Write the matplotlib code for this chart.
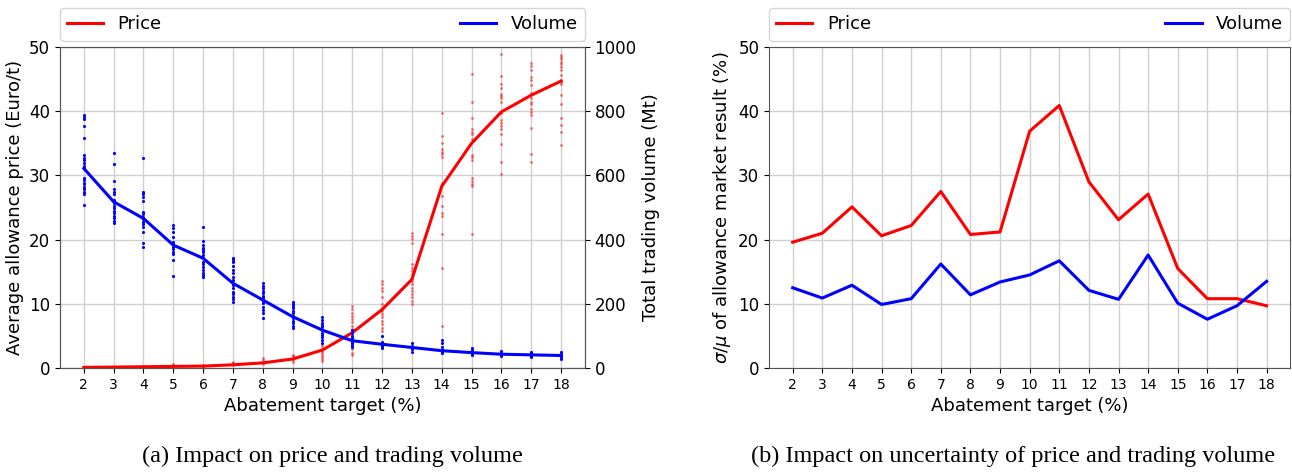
import numpy as np
import matplotlib
matplotlib.use("Agg")
import matplotlib.pyplot as plt

targets = list(range(2, 19))

# mean allowance price (Euro/t) and total trading volume (Mt)
price_mean = [0.1, 0.15, 0.2, 0.25, 0.3, 0.5, 0.8, 1.4, 2.8, 5.5, 9.1, 13.8, 28.3, 35.0, 39.9, 42.5, 44.7]
volume_mean = [622, 518, 466, 383, 342, 264, 212, 160, 118, 85, 74, 64, 54, 48, 43, 41, 39]

# single simulation runs per target
price_runs = [
    [0.1, 0.15, 0.2],
    [0.1, 0.2],
    [0.15, 0.25],
    [0.2, 0.4, 0.6],
    [0.2, 0.3, 0.5],
    [0.4, 0.6, 0.8, 0.9],
    [0.6, 0.9, 1.2, 1.5],
    [0.9, 1.2, 1.5, 1.8, 2.1],
    [3.8, 3.4, 3.0, 2.7, 2.4, 2.0, 1.7, 1.4, 1.1],
    [9.7, 9.2, 8.6, 8.1, 7.6, 7.1, 6.6, 6.1, 5.5, 5.0, 4.5, 4.0, 3.5, 2.9, 2.4, 2.1],
    [13.6, 13.1, 12.5, 12.0, 11.0, 10.0, 9.4, 8.9, 8.4, 7.9, 7.4, 6.8, 6.3, 5.8],
    [21.1, 20.6, 20.1, 19.5, 16.2, 15.6, 15.1, 14.6, 14.1, 13.6, 13.1, 12.5, 12.0, 11.5, 11.0, 10.5, 10.0],
    [39.7, 36.1, 35.1, 34.1, 33.7, 33.3, 32.8, 28.9, 28.6, 26.8, 25.2, 24.2, 23.7, 20.9, 15.6, 6.5],
    [45.8, 41.5, 39.0, 37.2, 36.8, 36.4, 35.6, 33.2, 32.8, 32.4, 29.6, 29.1, 28.7, 28.4, 20.8],
    [48.9, 45.5, 44.3, 43.6, 42.7, 42.3, 42.0, 41.5, 39.8, 38.7, 38.2, 37.7, 37.2, 36.4, 34.9, 32.1, 30.3],
    [47.5, 47.0, 46.4, 45.3, 44.8, 44.1, 42.9, 42.1, 41.5, 41.1, 40.4, 39.9, 39.4, 37.4, 33.3, 32.1],
    [48.8, 48.4, 48.1, 47.7, 47.3, 46.9, 46.4, 45.7, 44.9, 44.6, 44.3, 42.6, 41.1, 39.0, 37.9, 36.8, 34.7],
]
volume_runs = [
    [788, 782, 776, 755, 716, 664, 655, 647, 638, 630, 624, 591, 585, 578, 572, 565, 558, 549, 541, 507],
    [671, 636, 583, 557, 547, 541, 523, 513, 505, 498, 489, 482, 474, 466, 458, 452],
    [653, 549, 541, 534, 520, 487, 479, 471, 464, 456, 448, 439, 425, 388, 378],
    [445, 437, 423, 409, 393, 385, 378, 371, 362, 354, 336, 287],
    [438, 397, 383, 375, 368, 360, 352, 342, 331, 323, 315, 305, 297, 290, 284],
    [344, 340, 334, 330, 318, 305, 295, 285, 275, 265, 258, 248, 238, 230, 222, 214, 206],
    [264, 255, 248, 241, 233, 224, 217, 210, 202, 191, 181, 171, 155],
    [207, 199, 193, 186, 179, 170, 162, 155, 148, 140, 131, 124],
    [158, 150, 141, 134, 127, 118, 110, 103, 96, 87, 79],
    [118, 110, 100, 92, 85, 78, 72, 66],
    [101, 82, 78, 75, 70, 65, 61],
    [78, 70, 66, 62, 58, 51],
    [87, 77, 67, 57, 50, 46],
    [62, 56, 50, 45, 40],
    [52, 48, 44, 40, 36],
    [50, 46, 42, 38, 35],
    [50, 45, 40, 36, 32, 28],
]

# coefficient of variation (%)
cv_price = [19.6, 21.0, 25.1, 20.6, 22.2, 27.5, 20.8, 21.2, 36.9, 40.9, 29.0, 23.1, 27.1, 15.5, 10.8, 10.8, 9.7]
cv_volume = [12.5, 10.9, 12.9, 9.9, 10.8, 16.2, 11.4, 13.4, 14.5, 16.7, 12.1, 10.7, 17.6, 10.1, 7.6, 9.7, 13.5]

plt.rcParams["font.family"] = "DejaVu Sans"
fig = plt.figure(figsize=(12.92, 4.72), dpi=100)

# (a) price and volume
ax1 = fig.add_axes([0.0464, 0.2203, 0.4063, 0.680])
ax2 = ax1.twinx()
for t, runs in zip(targets, price_runs):
    ax1.scatter([t] * len(runs), runs, s=4, color="red", alpha=0.55, linewidths=0, zorder=2)
for t, runs in zip(targets, volume_runs):
    ax2.scatter([t] * len(runs), runs, s=5, color="blue", linewidths=0, zorder=2)
l1, = ax1.plot(targets, price_mean, color="red", lw=2.2, label="Price", zorder=3)
l2, = ax2.plot(targets, volume_mean, color="blue", lw=2.2, label="Volume", zorder=3)

ax1.set_ylim(0, 50)
ax2.set_ylim(0, 1000)
ax1.set_xticks(targets)
ax1.grid(True, color="#d0d0d0", lw=1)
ax1.set_axisbelow(True)
ax1.set_xlabel("Abatement target (%)", fontsize=13)
ax1.set_ylabel("Average allowance price (Euro/t)", fontsize=13)
ax2.set_ylabel("Total trading volume (Mt)", fontsize=13)
ax1.tick_params(axis="y", labelsize=12)
ax2.tick_params(axis="y", labelsize=12)
ax1.tick_params(axis="x", labelsize=10)
ax1.legend([l1, l2], ["Price", "Volume"], loc="lower left", bbox_to_anchor=(0, 1.02, 1, 0.1),
           mode="expand", ncol=2, fontsize=13, borderaxespad=0)

# (b) uncertainty
ax3 = fig.add_axes([0.5952, 0.2203, 0.4035, 0.680])
ax3.plot(targets, cv_price, color="red", lw=2.2, label="Price")
ax3.plot(targets, cv_volume, color="blue", lw=2.2, label="Volume")
ax3.set_ylim(0, 50)
ax3.set_xticks(targets)
ax3.grid(True, color="#d0d0d0", lw=1)
ax3.set_axisbelow(True)
ax3.set_xlabel("Abatement target (%)", fontsize=13)
ax3.set_ylabel(r"$\sigma/\mu$ of allowance market result (%)", fontsize=13)
ax3.tick_params(axis="y", labelsize=12)
ax3.tick_params(axis="x", labelsize=10)
ax3.legend(loc="lower left", bbox_to_anchor=(0, 1.02, 1, 0.1),
           mode="expand", ncol=2, fontsize=13, borderaxespad=0)

for ax in (ax1, ax2, ax3):
    for sp in ax.spines.values():
        sp.set_color("#555555")

fig.text(0.2575, 0.034, "(a) Impact on price and trading volume", ha="center", va="center",
         fontsize=17.5, family="Liberation Serif")
fig.text(0.784, 0.034, "(b) Impact on uncertainty of price and trading volume", ha="center", va="center",
         fontsize=17.5, family="Liberation Serif")

fig.savefig("out.png", dpi=100)
